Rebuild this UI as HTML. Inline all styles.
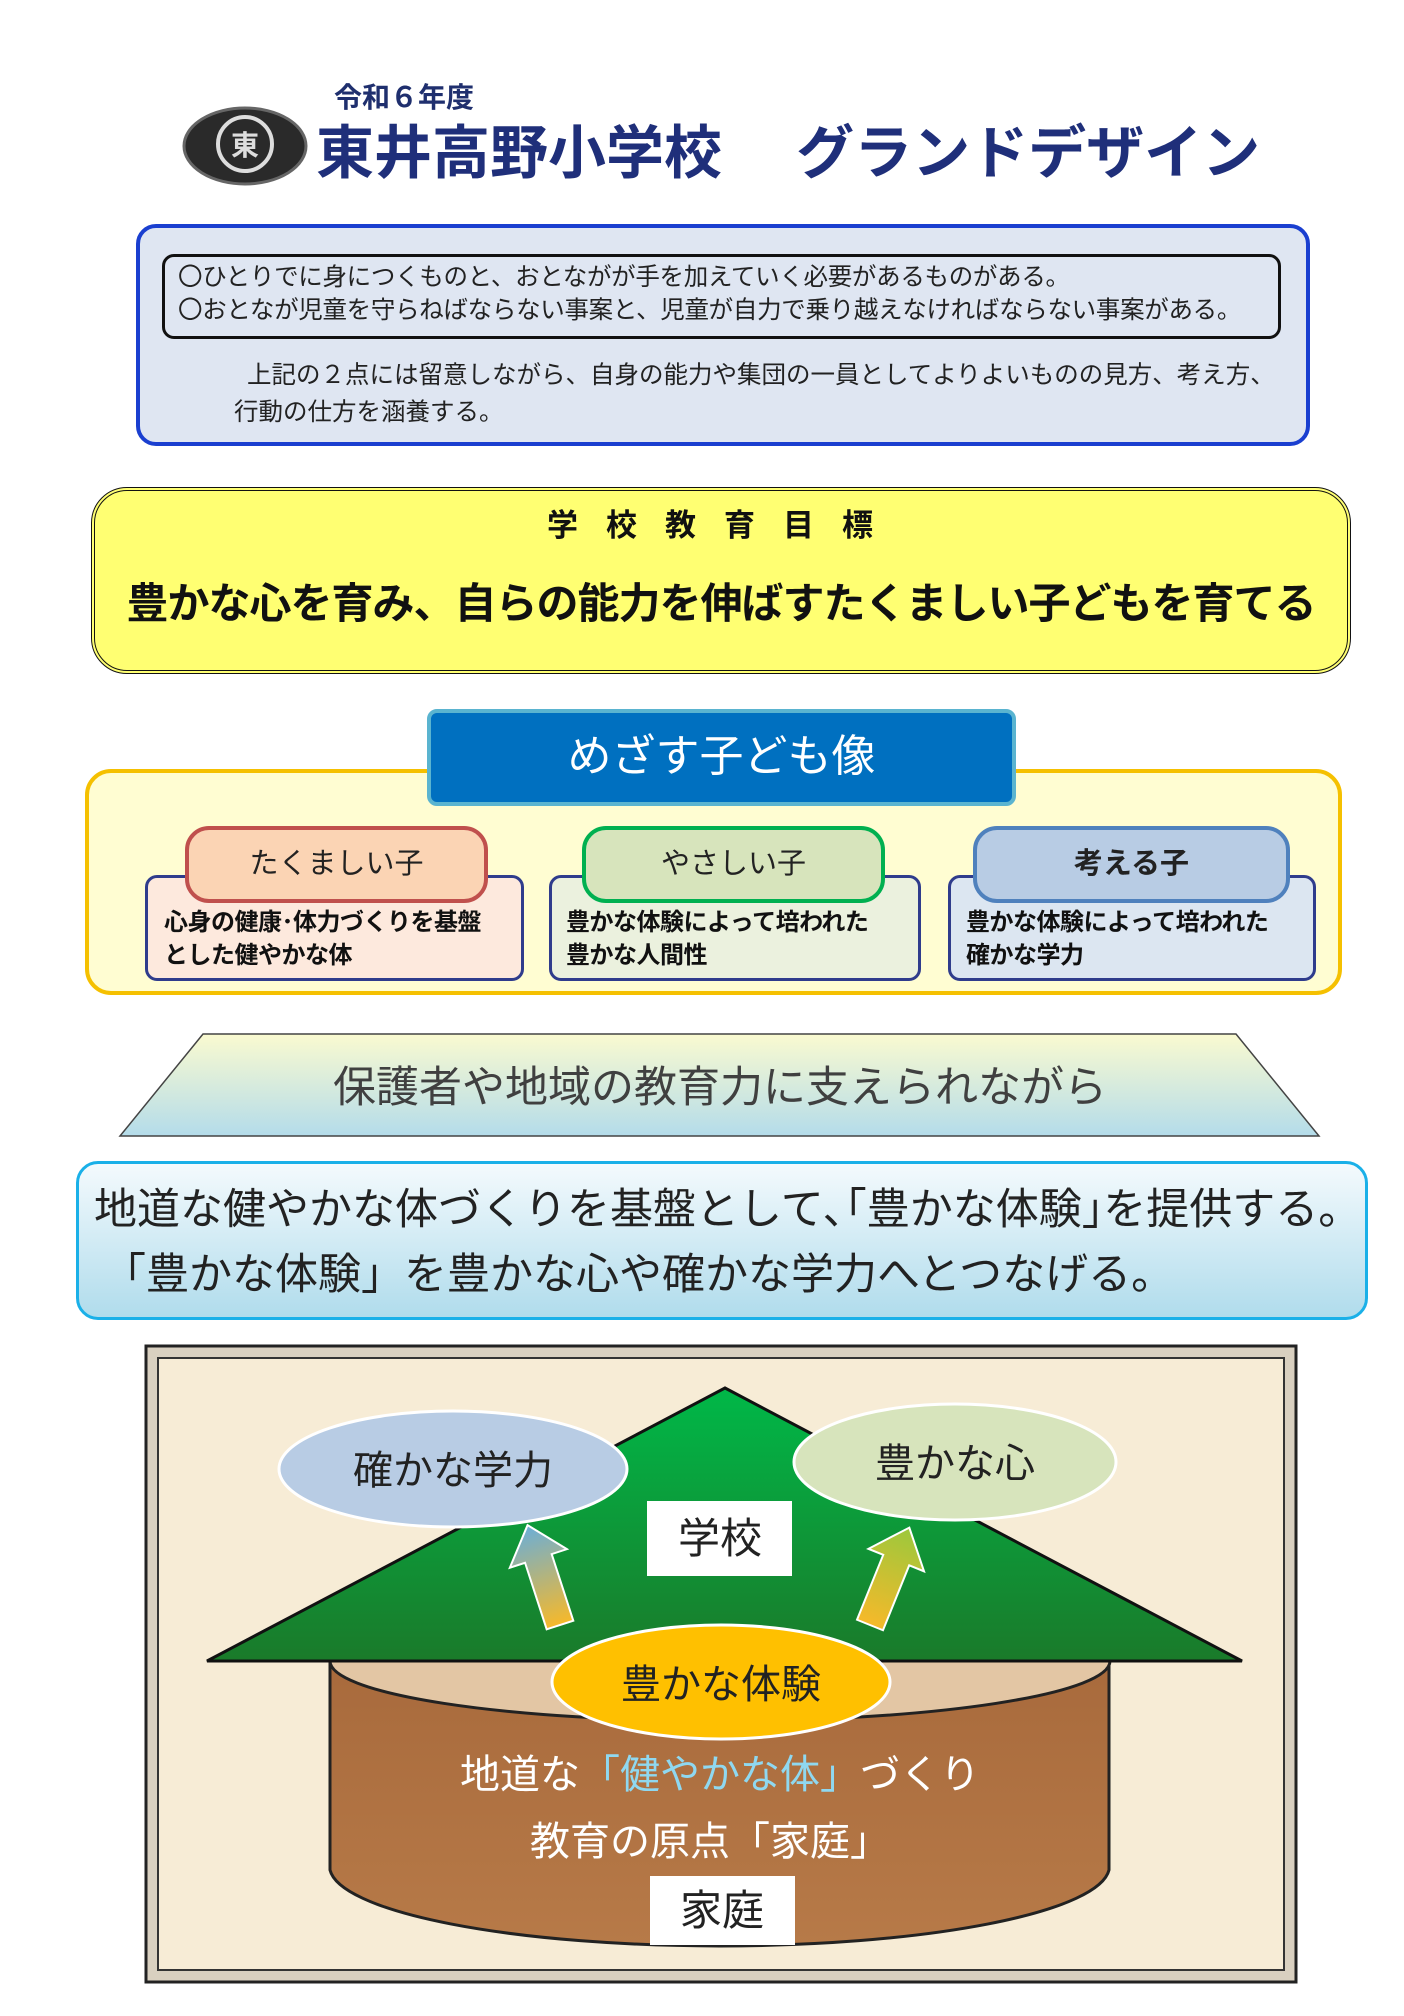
<!DOCTYPE html>
<html><head><meta charset="utf-8"><style>
*{margin:0;padding:0;box-sizing:border-box}
body{width:1404px;height:2016px;background:#fff;position:relative;overflow:hidden;font-family:"Liberation Sans","Noto Sans CJK JP",sans-serif}
.a{position:absolute}
.t{white-space:nowrap}
</style></head><body>
<div class="a t" style="left:334px;top:76px;font-size:28px;font-weight:bold;color:#1f2f6e">令和６年度</div>
<svg class="a" style="left:180px;top:104px" width="130" height="84"><ellipse cx="65" cy="42" rx="61" ry="38" fill="#2a2a2a" stroke="#666" stroke-width="3"/><ellipse cx="65" cy="40" rx="27" ry="27" fill="none" stroke="#ddd" stroke-width="4"/><text x="65" y="51" font-size="28" font-weight="bold" text-anchor="middle" fill="#ddd" font-family="Noto Sans CJK JP">東</text></svg>
<div class="a t" style="left:316px;top:106px;font-size:58px;font-weight:bold;color:#1f2f7a">東井高野小学校 　グランドデザイン</div>

<div class="a" style="left:136px;top:224px;width:1174px;height:222px;border:4px solid #1a3fd0;border-radius:20px;background:#dfe6f2"></div>
<div class="a" style="left:162px;top:254px;width:1119px;height:85px;border:3px solid #111;border-radius:12px"></div>
<div class="a t" style="left:178px;top:261px;font-size:24.5px;line-height:33px;color:#222;letter-spacing:-0.3px">〇ひとりでに身につくものと、おとながが手を加えていく必要があるものがある。<br>〇おとなが児童を守らねばならない事案と、児童が自力で乗り越えなければならない事案がある。</div>
<div class="a t" style="left:247px;top:356px;font-size:24.5px;color:#222">上記の２点には留意しながら、自身の能力や集団の一員としてよりよいものの見方、考え方、</div>
<div class="a t" style="left:234px;top:393px;font-size:24.5px;color:#222">行動の仕方を涵養する。</div>

<div class="a" style="left:91px;top:487px;width:1260px;height:187px;border:4px double #111;border-radius:36px;background:#ffff72"></div>
<div class="a t" style="left:0;width:1448px;text-align:center;top:500px;font-size:31px;font-weight:bold;letter-spacing:28px;color:#111">学校教育目標</div>
<div class="a t" style="left:91px;width:1260px;text-align:center;top:570px;font-size:42px;font-weight:bold;color:#111;letter-spacing:-1px">豊かな心を育み、自らの能力を伸ばすたくましい子どもを育てる</div>

<div class="a" style="left:85px;top:769px;width:1257px;height:226px;border:4px solid #f5c000;border-radius:26px;background:#fffdd2"></div>
<div class="a" style="left:427px;top:709px;width:589px;height:97px;border:4px solid #5ab4d0;border-radius:10px;background:#0070c0;color:#fff;font-size:44px;text-align:center;line-height:88px">めざす子ども像</div>

<div class="a" style="left:145px;top:875px;width:379px;height:106px;border:3px solid #2f3c8c;border-radius:12px;background:#fde9dd"></div>
<div class="a" style="left:185px;top:826px;width:303px;height:77px;border:4px solid #c0504d;border-radius:24px;background:#fbd4b4;text-align:center;line-height:68px;font-size:29px;color:#222">たくましい子</div>
<div class="a t" style="left:164px;top:906px;font-size:24px;line-height:33px;font-weight:bold;color:#111;letter-spacing:-0.5px">心身の健康･体力づくりを基盤<br>とした健やかな体</div>

<div class="a" style="left:549px;top:875px;width:372px;height:106px;border:3px solid #2f3c8c;border-radius:12px;background:#ebf1de"></div>
<div class="a" style="left:582px;top:826px;width:303px;height:77px;border:4px solid #00b050;border-radius:24px;background:#d7e4bc;text-align:center;line-height:68px;font-size:29px;color:#222">やさしい子</div>
<div class="a t" style="left:566px;top:906px;font-size:24px;line-height:33px;font-weight:bold;color:#111;letter-spacing:-0.5px">豊かな体験によって培われた<br>豊かな人間性</div>

<div class="a" style="left:948px;top:875px;width:368px;height:106px;border:3px solid #2f3c8c;border-radius:12px;background:#dce6f1"></div>
<div class="a" style="left:973px;top:826px;width:317px;height:77px;border:4px solid #4f81bd;border-radius:24px;background:#b8cce4;text-align:center;line-height:68px;font-size:29px;font-weight:bold;color:#222">考える子</div>
<div class="a t" style="left:966px;top:906px;font-size:24px;line-height:33px;font-weight:bold;color:#111;letter-spacing:-0.5px">豊かな体験によって培われた<br>確かな学力</div>

<svg class="a" style="left:0;top:1030px" width="1404" height="110"><defs><linearGradient id="tg" x1="0" y1="0" x2="0" y2="1"><stop offset="0" stop-color="#fafad0"/><stop offset="1" stop-color="#b4dcea"/></linearGradient></defs><polygon points="203,4 1236,4 1319,106 120,106" fill="url(#tg)" stroke="#444" stroke-width="1.5"/><text x="720" y="72" font-size="43" text-anchor="middle" fill="#404040" font-family="Liberation Sans,Noto Sans CJK JP,sans-serif">保護者や地域の教育力に支えられながら</text></svg>

<div class="a" style="left:76px;top:1161px;width:1292px;height:159px;border:3px solid #1ab0e8;border-radius:22px;background:linear-gradient(#f4fafd,#b0dcec)"></div>
<div class="a t" style="left:94px;top:1175px;font-size:43px;color:#222">地道な健やかな体づくりを基盤として､｢豊かな体験｣を提供する。</div>
<div class="a t" style="left:103px;top:1240px;font-size:43px;color:#222">「豊かな体験」を豊かな心や確かな学力へとつなげる。</div>

<svg class="a" style="left:0;top:0" width="1404" height="2016" font-family="Liberation Sans,Noto Sans CJK JP,sans-serif">
<defs>
<linearGradient id="gr" x1="0" y1="0" x2="0" y2="1"><stop offset="0" stop-color="#00b848"/><stop offset="1" stop-color="#1a7a2a"/></linearGradient>
<linearGradient id="wd" x1="0" y1="0" x2="0" y2="1"><stop offset="0" stop-color="#a86a3c"/><stop offset="1" stop-color="#b77a48"/></linearGradient>
<linearGradient id="a1" x1="0" y1="1" x2="0" y2="0"><stop offset="0" stop-color="#f6b92a"/><stop offset="1" stop-color="#6aaed8"/></linearGradient>
<linearGradient id="a2" x1="0" y1="1" x2="0" y2="0"><stop offset="0" stop-color="#f6b92a"/><stop offset="1" stop-color="#9bc83c"/></linearGradient>
</defs>
<rect x="146" y="1346" width="1150" height="636" fill="#d9d0c0" stroke="#222" stroke-width="3"/>
<rect x="158" y="1358" width="1126" height="612" fill="#f7ecd6" stroke="#333" stroke-width="2"/>
<path d="M330,1661 L330,1870 A390,80 0 0 0 1109,1870 L1109,1661 Z" fill="url(#wd)" stroke="#222" stroke-width="3"/>
<ellipse cx="720" cy="1661" rx="390" ry="60" fill="#e3c6a4" stroke="#222" stroke-width="3"/>
<polygon points="725,1388 207,1661 1242,1661" fill="url(#gr)" stroke="#111" stroke-width="3"/>
<ellipse cx="453" cy="1469" rx="174" ry="58" fill="#b8cce4" stroke="#fff" stroke-width="3"/>
<text x="453" y="1484" font-size="40" text-anchor="middle" fill="#222">確かな学力</text>
<ellipse cx="955" cy="1462" rx="161" ry="58" fill="#d7e4bc" stroke="#fff" stroke-width="3"/>
<text x="955" y="1477" font-size="40" text-anchor="middle" fill="#222">豊かな心</text>
<rect x="647" y="1501" width="145" height="75" fill="#fff"/>
<text x="720" y="1553" font-size="42" text-anchor="middle" fill="#222">学校</text>
<g transform="translate(560,1625) rotate(-18)"><polygon points="-14,0 14,0 14,-70 30,-70 0,-105 -30,-70 -14,-70" fill="url(#a1)" stroke="#fff" stroke-width="2"/></g>
<g transform="translate(870,1625) rotate(22)"><polygon points="-14,0 14,0 14,-70 30,-70 0,-105 -30,-70 -14,-70" fill="url(#a2)" stroke="#fff" stroke-width="2"/></g>
<ellipse cx="721" cy="1682" rx="169" ry="57" fill="#ffc000" stroke="#fff" stroke-width="3"/>
<text x="721" y="1698" font-size="40" text-anchor="middle" fill="#222">豊かな体験</text>
<text x="720" y="1788" font-size="40" text-anchor="middle" fill="#fff">地道な<tspan fill="#8fd8f0">「健やかな体」</tspan>づくり</text>
<text x="710" y="1855" font-size="40" text-anchor="middle" fill="#fff">教育の原点「家庭」</text>
<rect x="650" y="1876" width="145" height="69" fill="#fff"/>
<text x="722" y="1925" font-size="42" text-anchor="middle" fill="#222">家庭</text>
</svg>
</body></html>
